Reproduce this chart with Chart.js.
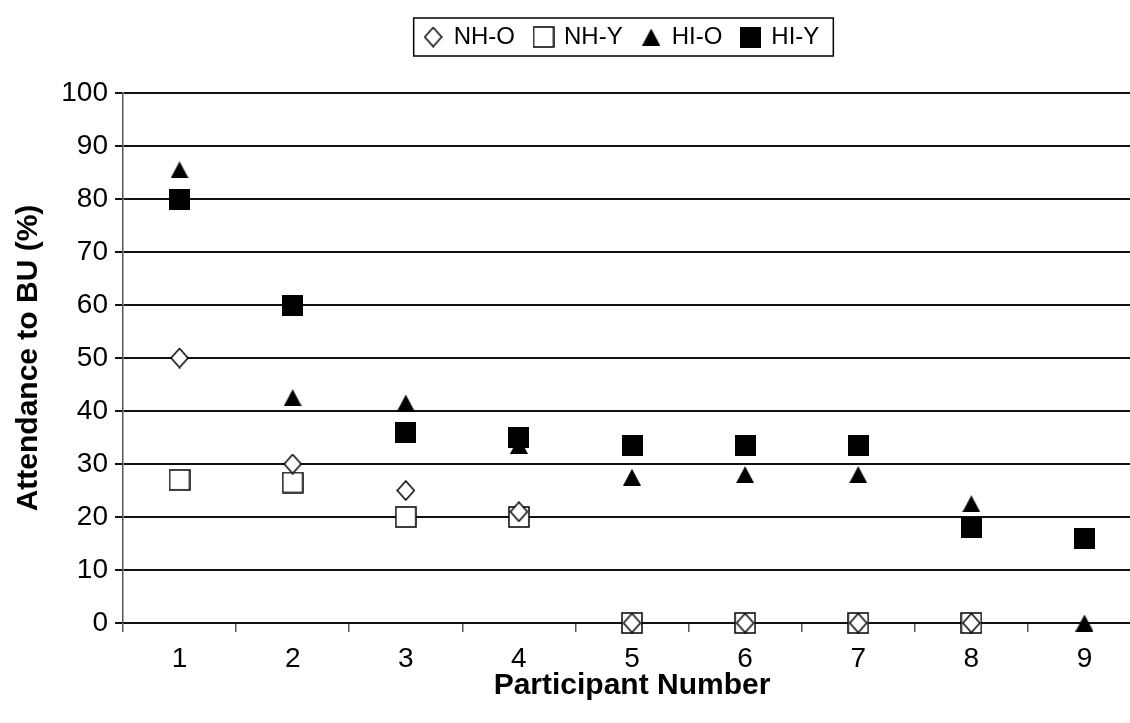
<!DOCTYPE html>
<html>
<head>
<meta charset="utf-8">
<script src="https://cdn.jsdelivr.net/npm/chart.js@4.4.1/dist/chart.umd.min.js"></script>
<style>
  html, body { margin: 0; padding: 0; background: #fff; overflow: hidden; }
  #wrap { width: 1152px; height: 723px; position: relative; }
  canvas { display: block; }
</style>
</head>
<body>
<div id="wrap"><canvas id="c" width="1152" height="723"></canvas></div>
<script>
// ---- data ----
const participants = ['1', '2', '3', '4', '5', '6', '7', '8', '9'];
const seriesNames = ['NH-O', 'NH-Y', 'HI-O', 'HI-Y'];
const nhO = [50, 30, 25, 21, 0, 0, 0, 0, null];
const nhY = [27, 26.5, 20, 20, 0, 0, 0, 0, null];
const hiO = [85.5, 42.5, 41.5, 33.5, 27.5, 28, 28, 22.5, 0];
const hiY = [80, 60, 36, 35, 33.5, 33.5, 33.5, 18, 16];
const yTicks = [0, 10, 20, 30, 40, 50, 60, 70, 80, 90, 100];
const xTitle = 'Participant Number';
const yTitle = 'Attendance to BU (%)';

// ---- marker images ----
function mk(w, h, draw) {
  const c = document.createElement('canvas');
  c.width = w; c.height = h;
  draw(c.getContext('2d'), w, h);
  return c;
}
const diamondImg = mk(19, 21, (g, w, h) => {
  g.beginPath();
  g.moveTo(w / 2, 1); g.lineTo(w - 1, h / 2); g.lineTo(w / 2, h - 1); g.lineTo(1, h / 2);
  g.closePath();
  g.fillStyle = '#fff'; g.fill();
  g.lineWidth = 1.5; g.strokeStyle = '#000'; g.stroke();
});
const openSqImg = mk(22, 22, (g, w, h) => {
  g.fillStyle = '#fff'; g.fillRect(1, 1, w - 2, h - 2);
  g.lineWidth = 1.5; g.strokeStyle = '#000'; g.strokeRect(1, 1, w - 2, h - 2);
});
const triImg = mk(18, 17, (g, w, h) => {
  g.beginPath();
  g.moveTo(w / 2, 0); g.lineTo(w, h); g.lineTo(0, h); g.closePath();
  g.fillStyle = '#000'; g.fill();
});
const fillSqImg = mk(21, 21, (g, w, h) => {
  g.fillStyle = '#000'; g.fillRect(0, 0, w, h);
});

const FONT = "'Liberation Sans', Arial, Helvetica, sans-serif";
const LEGEND_CX = 622;
const LEGEND_CY = 37;

const legendPlugin = {
  id: 'legendPlace',
  afterLayout(chart) {
    const lg = chart.legend;
    if (!lg) return;
    const dx = LEGEND_CX - (lg.left + lg.right) / 2;
    lg.left += dx; lg.right += dx;
    const pad = lg.options.labels.padding;
    const rowC = lg.top + pad + 12;
    const dy = LEGEND_CY - rowC;
    lg.top += dy; lg.bottom += dy;
  },
  afterDraw(chart) {
    const lg = chart.legend;
    if (!lg || !lg.legendHitBoxes || !lg.legendHitBoxes.length) return;
    const hb = lg.legendHitBoxes;
    let l = Infinity, r = -Infinity;
    hb.forEach(b => { l = Math.min(l, b.left); r = Math.max(r, b.left + b.width); });
    const cy = hb[0].top + hb[0].height / 2;
    const ctx = chart.ctx;
    ctx.save();
    ctx.strokeStyle = '#000';
    ctx.lineWidth = 1.5;
    ctx.strokeRect(l - 11, cy - 19, (r + 14) - (l - 11), 38);
    ctx.restore();
  }
};

const ctx = document.getElementById('c').getContext('2d');
new Chart(ctx, {
  type: 'line',
  data: {
    labels: participants,
    datasets: [
      { label: seriesNames[0], data: nhO, pointStyle: diamondImg, order: 0 },
      { label: seriesNames[1], data: nhY, pointStyle: openSqImg, order: 1 },
      { label: seriesNames[2], data: hiO, pointStyle: triImg, order: 3 },
      { label: seriesNames[3], data: hiY, pointStyle: fillSqImg, order: 2 }
    ].map(d => Object.assign(d, {
      showLine: false,
      clip: false,
      borderColor: '#000',
      backgroundColor: '#000',
      pointRadius: 10,
      pointHoverRadius: 10
    }))
  },
  options: {
    responsive: false,
    maintainAspectRatio: false,
    animation: false,
    devicePixelRatio: 1,
    layout: { padding: { top: 39, left: 0, right: 0, bottom: 0 } },
    plugins: {
      tooltip: { enabled: false },
      legend: {
        display: true,
        position: 'top',
        labels: {
          usePointStyle: true,
          boxWidth: 17,
          boxHeight: 17,
          padding: 20,
          color: '#000',
          font: { family: FONT, size: 24 },
          sort: (a, b) => a.datasetIndex - b.datasetIndex
        }
      }
    },
    scales: {
      x: {
        type: 'category',
        offset: true,
        grid: {
          offset: true,
          drawOnChartArea: false,
          drawTicks: true,
          tickLength: 9,
          color: '#555',
          lineWidth: 1.5
        },
        border: { display: true, color: '#111', width: 2 },
        ticks: {
          color: '#000',
          font: { family: FONT, size: 28 },
          padding: 10,
          maxRotation: 0,
          autoSkip: false
        },
        title: {
          display: true,
          text: xTitle,
          color: '#000',
          font: { family: FONT, size: 30, weight: 'bold' },
          padding: { top: 0, bottom: 19 }
        },
        afterFit(scale) { scale.height = 100; }
      },
      y: {
        min: 0,
        max: 100,
        afterBuildTicks(scale) { scale.ticks = yTicks.map(v => ({ value: v })); },
        grid: {
          color: '#111',
          lineWidth: 2,
          tickLength: 8,
          drawTicks: true
        },
        border: { display: true, color: '#555', width: 1.5 },
        ticks: {
          color: '#000',
          font: { family: FONT, size: 28 },
          padding: 7
        },
        title: {
          display: true,
          text: yTitle,
          color: '#000',
          font: { family: FONT, size: 30, weight: 'bold' },
          padding: { top: 11, bottom: 0 }
        },
        afterFit(scale) { scale.width = 123; }
      }
    }
  },
  plugins: [legendPlugin]
});
</script>
</body>
</html>
